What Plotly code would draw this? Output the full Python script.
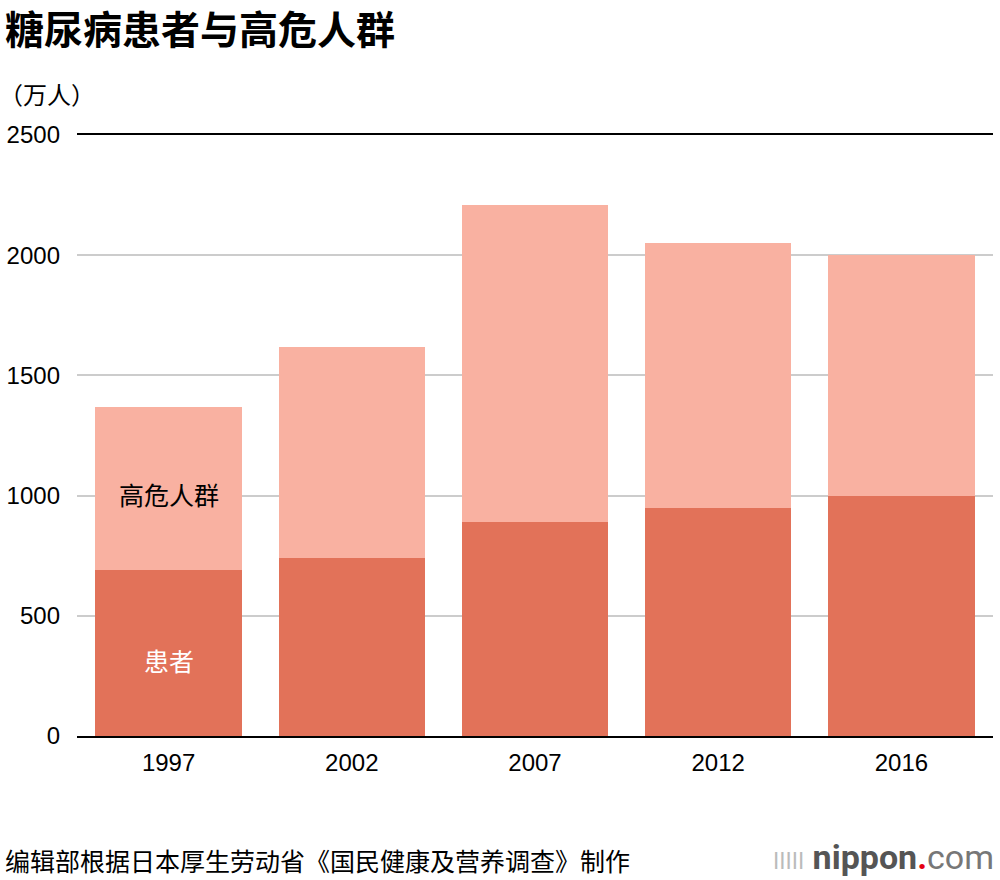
import plotly.graph_objects as go

years = ["1997", "2002", "2007", "2012", "2016"]
patients = [690, 740, 890, 950, 1000]
high_risk = [680, 880, 1320, 1100, 1000]
y_ticks = [0, 500, 1000, 1500, 2000, 2500]

CJK = "Noto Sans CJK SC"
NUM = "Liberation Sans, Arial, sans-serif"

L, T, B = 77, 135, 144
PW, PH = 916, 601

fig = go.Figure()
fig.add_trace(go.Bar(x=years, y=patients, name="患者", marker_color="#E27259",
                     marker_line_width=0))
fig.add_trace(go.Bar(x=years, y=high_risk, name="高危人群", marker_color="#F9B1A1",
                     marker_line_width=0))

fig.update_layout(
    barmode="stack",
    bargap=0.2,
    width=1000, height=880,
    margin=dict(l=L, r=1000 - L - PW, t=T, b=B, autoexpand=False),
    paper_bgcolor="white", plot_bgcolor="white",
    showlegend=False,
    font=dict(family=NUM, color="black", size=24),
)
fig.update_yaxes(range=[0, 2500], tickvals=y_ticks, showgrid=True, gridcolor="#CCCCCC",
                 gridwidth=1.5, zeroline=False, ticks="", ticklabelstandoff=16,
                 tickfont=dict(family=NUM, size=24, color="black"))
fig.update_xaxes(type="category", range=[-0.5, len(years) - 0.5], showline=True,
                 mirror=True, linecolor="black", linewidth=2, ticks="", ticklabelstandoff=4,
                 tickfont=dict(family=NUM, size=24, color="black"))

def py(pix):
    return (736 - pix) / PH

def px(pix):
    return (pix - L) / PW

# title and unit
fig.add_annotation(text="<b>糖尿病患者与高危人群</b>", xref="paper", yref="paper",
                   xanchor="left", yanchor="middle", x=px(3), y=py(27),
                   showarrow=False, font=dict(family=CJK, size=39, color="black"))
fig.add_annotation(text="（万人）", xref="paper", yref="paper",
                   xanchor="left", yanchor="middle", x=px(-3), y=py(93),
                   showarrow=False, font=dict(family=CJK, size=24, color="black"))
# in-bar labels (category index 0 = first year)
fig.add_annotation(text="高危人群", x=0, y=1005, showarrow=False,
                   font=dict(family=CJK, size=25, color="black"))
fig.add_annotation(text="患者", x=0, y=315, showarrow=False,
                   font=dict(family=CJK, size=25, color="white"))
# footer
fig.add_annotation(text="编辑部根据日本厚生劳动省《国民健康及营养调查》制作", xref="paper", yref="paper",
                   xanchor="left", yanchor="middle", x=px(3), y=py(860),
                   showarrow=False, font=dict(family=CJK, size=25, color="black"))
fig.add_annotation(text="<span style='color:#BBBBBB;font-size:24px'>ǀǀǀǀǀ</span> "
                        "<b>nippon</b><span style='color:#E60012'><b>.</b></span>"
                        "<span style='color:#777777'>com</span>",
                   xref="paper", yref="paper", xanchor="right", yanchor="middle",
                   x=px(996), y=py(857), showarrow=False,
                   font=dict(family="Roboto, Liberation Sans", size=34, color="#555555"))

fig.write_html("out.html", config={"displayModeBar": False},
               post_script="document.body.style.margin='0';"
                           "document.body.style.padding='0';")
